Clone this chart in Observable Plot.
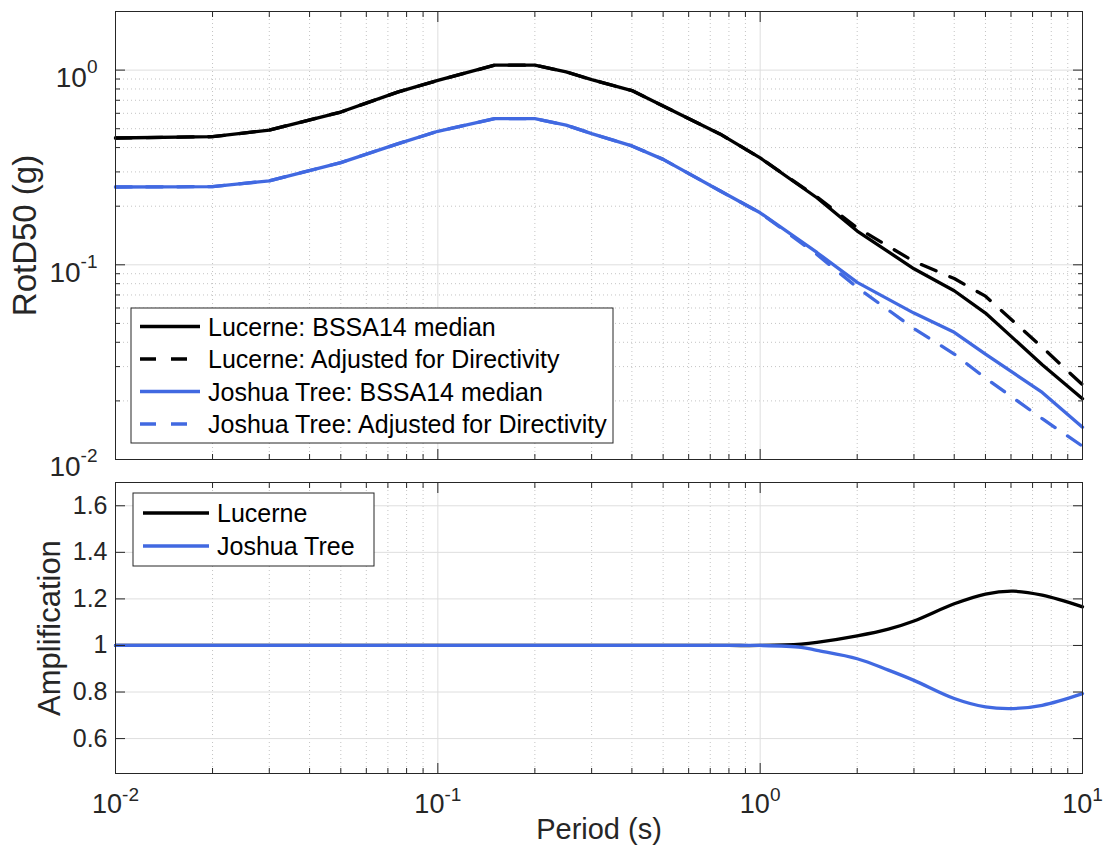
<!DOCTYPE html>
<html>
<head>
<meta charset="utf-8">
<script src="https://cdn.jsdelivr.net/npm/d3@7"></script>
<script src="https://cdn.jsdelivr.net/npm/@observablehq/plot@0.6"></script>
<style>
  body { margin: 0; background: #fff; }
  #chart { position: relative; width: 1106px; height: 852px; background: #fff; }
  #chart svg { position: absolute; left: 0; overflow: visible; }
</style>
</head>
<body>
<div id="chart"></div>
<script>
// ---- Response spectra (RotD50, g) at the standard periods ----
const periods = [0.01, 0.02, 0.03, 0.05, 0.075, 0.1, 0.15, 0.2, 0.25, 0.3, 0.4, 0.5, 0.75, 1, 1.5, 2, 3, 4, 5, 7.5, 10];
const lucerneMedian      = [0.448, 0.455, 0.492, 0.609, 0.771, 0.885, 1.06, 1.06, 0.98, 0.893, 0.785, 0.654, 0.47, 0.354, 0.221, 0.149, 0.0954, 0.0736, 0.0565, 0.0307, 0.0205];
const lucerneDirectivity = [0.448, 0.455, 0.492, 0.609, 0.771, 0.885, 1.06, 1.06, 0.98, 0.893, 0.785, 0.654, 0.47, 0.354, 0.223, 0.155, 0.104, 0.085, 0.069, 0.0377, 0.0242];
const joshuaMedian       = [0.251, 0.252, 0.27, 0.335, 0.418, 0.485, 0.563, 0.563, 0.522, 0.472, 0.408, 0.348, 0.24, 0.185, 0.1157, 0.0812, 0.0565, 0.045, 0.0348, 0.0221, 0.01465];
const joshuaDirectivity  = [0.251, 0.252, 0.27, 0.335, 0.418, 0.485, 0.563, 0.563, 0.522, 0.472, 0.408, 0.348, 0.24, 0.185, 0.113, 0.0765, 0.047, 0.0348, 0.0262, 0.0162, 0.0117];

// ---- Directivity amplification factors ----
const ampPeriods = [0.01, 0.1, 0.5, 0.8, 1, 1.34, 1.5, 2, 2.5, 3, 4, 5, 6.1, 7.5, 10];
const lucerneAmp = [1, 1, 1, 1, 1, 1.006, 1.013, 1.041, 1.07, 1.105, 1.179, 1.221, 1.233, 1.216, 1.166];
const joshuaAmp  = [1, 1, 1, 1, 1, 0.992, 0.979, 0.943, 0.894, 0.85, 0.772, 0.736, 0.729, 0.743, 0.793];

// ---- Series names and axis ticks ----
const spectraNames = ["Lucerne: BSSA14 median", "Lucerne: Adjusted for Directivity", "Joshua Tree: BSSA14 median", "Joshua Tree: Adjusted for Directivity"];
const ampNames = ["Lucerne", "Joshua Tree"];
const decadesX = [0.01, 0.1, 1, 10];
const decadesY = [0.01, 0.1, 1];
const ampTicks = [0.6, 0.8, 1, 1.2, 1.4, 1.6];
const mantissas = [2, 3, 4, 5, 6, 7, 8, 9];

const minorX = [0.01, 0.1, 1].flatMap(d => mantissas.map(k => +(d * k).toPrecision(3)));
const minorY = [0.01, 0.1, 1].flatMap(d => mantissas.map(k => +(d * k).toPrecision(3))).filter(v => v < 2);

const FONT = '"Liberation Sans", Arial, Helvetica, sans-serif';
const INK = "#262626";
const BLUE = "#4169e1";
const LINE_W = 3.3;
const DASH = "16,15";

const seriesStyle = [
  {values: lucerneMedian, stroke: "#000", dash: null},
  {values: lucerneDirectivity, stroke: "#000", dash: DASH},
  {values: joshuaMedian, stroke: BLUE, dash: null},
  {values: joshuaDirectivity, stroke: BLUE, dash: DASH}
];
const spectraRows = seriesStyle.flatMap((s, j) =>
  periods.map((p, i) => ({series: spectraNames[j], period: p, value: s.values[i]})));

const ampRows = [lucerneAmp, joshuaAmp].flatMap((vals, j) =>
  ampPeriods.map((p, i) => ({series: ampNames[j], period: p, value: vals[i]})));

const powFormat = d => `10^${Math.round(Math.log10(d))}`;

function gridMarks(yMajor, yMinor) {
  const dotted = {stroke: "#c4c4c4", strokeOpacity: 1, strokeDasharray: "1,3", strokeWidth: 1};
  const solid = {stroke: "#dedede", strokeOpacity: 1, strokeWidth: 1};
  return [
    Plot.gridX(minorX, dotted),
    yMinor ? Plot.gridY(yMinor, dotted) : null,
    Plot.gridX(decadesX, solid),
    Plot.gridY(yMajor, solid)
  ];
}

function tickMarks(yMajor, yMinor) {
  const tk = {stroke: INK, fill: "none", label: null, strokeWidth: 1};
  const marks = [
    Plot.axisX(decadesX, {...tk, anchor: "bottom", tickSize: -10}),
    Plot.axisX(minorX, {...tk, anchor: "bottom", tickSize: -5}),
    Plot.axisX(decadesX, {...tk, anchor: "top", tickSize: -10}),
    Plot.axisX(minorX, {...tk, anchor: "top", tickSize: -5}),
    Plot.axisY(yMajor, {...tk, anchor: "left", tickSize: -10}),
    Plot.axisY(yMajor, {...tk, anchor: "right", tickSize: -10})
  ];
  if (yMinor) {
    marks.push(Plot.axisY(yMinor, {...tk, anchor: "left", tickSize: -5}));
    marks.push(Plot.axisY(yMinor, {...tk, anchor: "right", tickSize: -5}));
  }
  return marks;
}

// Turn "10^e" tick labels into a base with a raised exponent
function superscripts(svg, raise) {
  d3.select(svg).selectAll("text").each(function () {
    const m = /^10\^(.+)$/.exec(this.textContent);
    if (!m) return;
    const t = d3.select(this);
    t.text("10");
    t.append("tspan").attr("dy", -raise).attr("font-size", 19).text(m[1]);
  });
}

function drawLegend(svg, box, entries) {
  const g = d3.select(svg).append("g")
    .attr("font-family", FONT).attr("font-size", 25).attr("text-anchor", "start");
  g.append("rect").attr("x", box.x).attr("y", box.y).attr("width", box.w).attr("height", box.h)
    .attr("fill", "#fff").attr("stroke", INK).attr("stroke-width", 1);
  entries.forEach((e, i) => {
    const y = box.y + box.first + i * box.step;
    g.append("line").attr("x1", box.lx1).attr("x2", box.lx2).attr("y1", y).attr("y2", y)
      .attr("stroke", e.stroke).attr("stroke-width", LINE_W)
      .attr("stroke-dasharray", e.dash || null);
    g.append("text").attr("x", box.tx).attr("y", y).attr("dy", "0.36em").attr("fill", "#000").text(e.name);
  });
}

const chart = document.getElementById("chart");

// ---- Upper panel: spectra ----
const spectraPlot = Plot.plot({
  width: 1106, height: 470,
  marginLeft: 115, marginRight: 24, marginTop: 11, marginBottom: 11,
  style: {fontFamily: FONT, fontSize: "25px", color: INK, background: "transparent", overflow: "visible"},
  x: {type: "log", domain: [0.01, 10]},
  y: {type: "log", domain: [0.01, 2]},
  marks: [
    ...gridMarks(decadesY, minorY),
    ...seriesStyle.map((s, j) => Plot.line(spectraRows.filter(r => r.series === spectraNames[j]), {
      x: "period", y: "value", stroke: s.stroke, strokeWidth: LINE_W,
      strokeDasharray: s.dash, strokeLinejoin: "round"
    })),
    Plot.frame({stroke: INK, strokeWidth: 1}),
    ...tickMarks(decadesY, minorY),
    Plot.axisY(decadesY, {anchor: "left", tickSize: 0, tickPadding: 18, tickFormat: powFormat,
      fontSize: 28, fill: INK, label: null, dy: 8}),
    Plot.text(["RotD50 (g)"], {text: d => d, frameAnchor: "left", dx: -90, rotate: -90,
      textAnchor: "middle", fontSize: 33, fill: INK})
  ]
});
spectraPlot.style.top = "0px";
superscripts(spectraPlot, 14);
drawLegend(spectraPlot, {x: 131, y: 308, w: 482, h: 135, first: 18.5, step: 32.5, lx1: 140, lx2: 200, tx: 208},
  seriesStyle.map((s, j) => ({name: spectraNames[j], stroke: s.stroke, dash: s.dash})));
chart.appendChild(spectraPlot);

// ---- Lower panel: amplification ----
const ampColors = ["#000", BLUE];
const ampPlot = Plot.plot({
  width: 1106, height: 382,
  marginLeft: 115, marginRight: 24, marginTop: 12, marginBottom: 79,
  style: {fontFamily: FONT, fontSize: "25px", color: INK, background: "transparent", overflow: "visible"},
  x: {type: "log", domain: [0.01, 10]},
  y: {domain: [0.45, 1.7]},
  marks: [
    ...gridMarks(ampTicks, null),
    ...ampNames.map((n, j) => Plot.line(ampRows.filter(r => r.series === n), {
      x: "period", y: "value", stroke: ampColors[j], strokeWidth: LINE_W, curve: "catmull-rom"
    })),
    Plot.frame({stroke: INK, strokeWidth: 1}),
    ...tickMarks(ampTicks, null),
    Plot.axisY(ampTicks, {anchor: "left", tickSize: 0, tickPadding: 8,
      tickFormat: d => String(+d.toFixed(1)), fontSize: 25, fill: INK, label: null}),
    Plot.axisX(decadesX, {anchor: "bottom", tickSize: 0, tickPadding: 20, tickFormat: powFormat,
      fontSize: 27, fill: INK, label: null}),
    Plot.text(["Amplification"], {text: d => d, frameAnchor: "left", dx: -65, rotate: -90,
      textAnchor: "middle", fontSize: 31, fill: INK}),
    Plot.text(["Period (s)"], {text: d => d, frameAnchor: "bottom", dy: 65,
      textAnchor: "middle", fontSize: 29, fill: INK})
  ]
});
ampPlot.style.top = "470px";
superscripts(ampPlot, 12);
drawLegend(ampPlot, {x: 133, y: 23, w: 241, h: 73, first: 20, step: 33, lx1: 143, lx2: 209, tx: 217},
  ampNames.map((n, j) => ({name: n, stroke: ampColors[j], dash: null})));
chart.appendChild(ampPlot);
</script>
</body>
</html>
